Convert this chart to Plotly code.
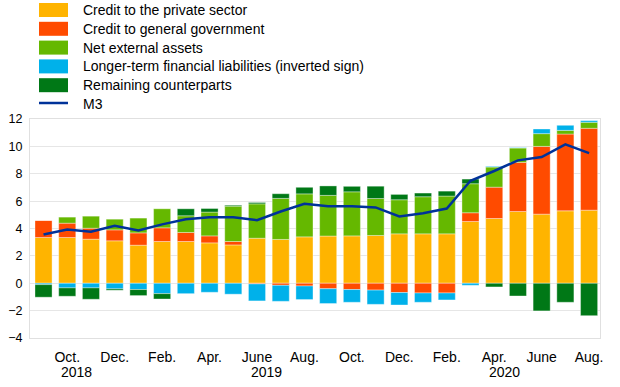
import plotly.graph_objects as go

months = ["Sep 2018", "Oct 2018", "Nov 2018", "Dec 2018", "Jan 2019", "Feb 2019",
          "Mar 2019", "Apr 2019", "May 2019", "Jun 2019", "Jul 2019", "Aug 2019",
          "Sep 2019", "Oct 2019", "Nov 2019", "Dec 2019", "Jan 2020", "Feb 2020",
          "Mar 2020", "Apr 2020", "May 2020", "Jun 2020", "Jul 2020", "Aug 2020"]

private_sector = [3.34, 3.34, 3.22, 3.10, 2.78, 3.05, 3.05, 2.95, 2.80, 3.29, 3.20, 3.39,
                  3.45, 3.46, 3.49, 3.61, 3.61, 3.61, 4.51, 4.73, 5.24, 5.05, 5.29, 5.34]
general_government = [1.25, 1.05, 0.80, 0.80, 0.90, 1.00, 0.66, 0.51, 0.25, -0.05, -0.15, -0.20,
                      -0.40, -0.46, -0.50, -0.68, -0.71, -0.71, 0.64, 2.29, 3.59, 4.95, 5.61, 5.98]
net_external_assets = [0.00, 0.44, 0.88, 0.78, 1.08, 1.39, 1.22, 1.74, 2.58, 2.51, 3.00, 3.14,
                       2.97, 3.22, 2.70, 2.49, 2.71, 2.76, 2.12, 1.47, 1.05, 0.93, 0.27, 0.44]
longer_term_liab = [-0.10, -0.34, -0.34, -0.41, -0.46, -0.76, -0.76, -0.66, -0.80, -1.24, -1.17, -0.99,
                    -1.08, -0.93, -1.04, -0.91, -0.68, -0.51, -0.15, 0.05, 0.03, 0.34, 0.37, 0.12]
remaining = [-0.92, -0.61, -0.83, -0.10, -0.44, -0.39, 0.51, 0.26, 0.07, 0.10, 0.34, 0.48,
             0.69, 0.40, 0.90, 0.39, 0.27, 0.36, 0.34, -0.27, -0.93, -2.02, -1.39, -2.37]
m3 = [3.56, 3.93, 3.76, 4.20, 3.85, 4.30, 4.68, 4.83, 4.83, 4.61, 5.24, 5.80,
      5.63, 5.63, 5.54, 4.88, 5.12, 5.46, 7.49, 8.20, 8.98, 9.22, 10.15, 9.51]

tick_months = ["Oct 2018", "Dec 2018", "Feb 2019", "Apr 2019", "Jun 2019", "Aug 2019",
               "Oct 2019", "Dec 2019", "Feb 2020", "Apr 2020", "Jun 2020", "Aug 2020"]
tick_labels = ["Oct.", "Dec.", "Feb.", "Apr.", "June", "Aug.",
               "Oct.", "Dec.", "Feb.", "Apr.", "June", "Aug."]
year_labels = ["2018", "2019", "2020"]
year_positions = [1.41, 9.42, 19.43]

series_names = ["Credit to the private sector", "Credit to general government",
                "Net external assets", "Longer-term financial liabilities (inverted sign)",
                "Remaining counterparts"]
series_values = [private_sector, general_government, net_external_assets, longer_term_liab, remaining]
colors = ["#ffb400", "#ff4b00", "#65b800", "#00b1ea", "#007816"]
m3_color = "#003299"

W, H = 620, 387
L, R, T, B = 30, 600, 119, 338
FONT = "Arial, Liberation Sans, sans-serif"

def px(x):
    return (x - L) / (R - L)

def py(y):
    return (B - y) / (B - T)

fig = go.Figure()
for name, vals, col in zip(series_names, series_values, colors):
    fig.add_trace(go.Bar(x=months, y=vals, name=name, marker_color=col,
                         marker_line_width=0.6, marker_line_color="rgba(255,255,255,0.6)",
                         showlegend=False))
fig.add_trace(go.Scatter(x=months, y=m3, name="M3", mode="lines",
                         line=dict(color=m3_color, width=2.5), showlegend=False))

shapes = []
annotations = []
for i, (name, col) in enumerate(zip(series_names + ["M3"], colors + [m3_color])):
    top = 3 + 18.8 * i
    cy = top + 7
    if name != "M3":
        shapes.append(dict(type="rect", xref="paper", yref="paper",
                           x0=px(39), x1=px(68), y0=py(top + 14), y1=py(top),
                           fillcolor=col, line_width=0, layer="above"))
    else:
        shapes.append(dict(type="line", xref="paper", yref="paper",
                           x0=px(39), x1=px(68), y0=py(cy - 1), y1=py(cy - 1),
                           line=dict(color=col, width=2.5)))
    annotations.append(dict(text=name, xref="paper", yref="paper", x=px(81), y=py(cy),
                            xanchor="left", yanchor="middle", showarrow=False,
                            font=dict(family=FONT, size=14, color="#000000")))

for lab, pos in zip(year_labels, year_positions):
    annotations.append(dict(text=lab, xref="x", yref="paper", x=pos, y=py(372),
                            xanchor="center", yanchor="middle", showarrow=False,
                            font=dict(family=FONT, size=14, color="#000000")))

fig.update_layout(
    width=W, height=H,
    margin=dict(l=L, r=W - R, t=T, b=H - B, pad=0),
    barmode="relative", bargap=0.28,
    plot_bgcolor="white", paper_bgcolor="white",
    font=dict(family=FONT, size=14, color="#000000"),
    shapes=shapes, annotations=annotations,
    xaxis=dict(type="category", range=[-0.57, 23.46], tickmode="array",
               tickvals=tick_months, ticktext=tick_labels, showgrid=False,
               showline=True, linecolor="#e0e0e0", linewidth=1, mirror=True,
               ticks="", ticklabelstandoff=6, tickfont=dict(size=14), automargin=False),
    yaxis=dict(range=[-4, 12], dtick=2, showgrid=True, gridcolor="#e6e6e6", gridwidth=1,
               zeroline=False, showline=True, linecolor="#e0e0e0", mirror=True,
               ticks="", ticklabelstandoff=4, tickfont=dict(size=12.5), automargin=False),
)

fig.write_html("out.html", config={"displayModeBar": False},
               post_script="document.body.style.margin='0';document.body.style.overflow='hidden';")
